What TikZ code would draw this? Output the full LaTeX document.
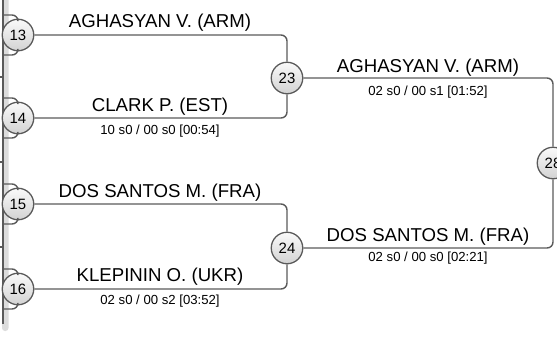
\documentclass[tikz,border=0pt]{standalone}
\usepackage{fontspec}
\setmainfont{Liberation Sans}
\definecolor{linec}{HTML}{5A5A5A}
\definecolor{stripc}{HTML}{DCDCDC}
\begin{document}
\begin{tikzpicture}[x=1bp,y=-1bp,
  conn/.style={draw=linec, line width=1.4bp, rounded corners=6bp},
  rnd/.style={circle, draw=linec, line width=1.3bp, minimum size=31.5bp, inner sep=0pt,
    top color=white!96!gray, bottom color=gray!35, font=\fontsize{15}{15}\selectfont},
  pname/.style={anchor=base, inner sep=0pt, font=\fontsize{18.7}{18.7}\selectfont},
  score/.style={anchor=base, inner sep=0pt, font=\fontsize{13.2}{13.2}\selectfont}]
\useasboundingbox (0,0) rectangle (557,345);
% left strip
\fill[stripc, rounded corners=3bp] (2,-10) rectangle (8.5,331);
\draw[linec, line width=1.4bp] (3,-5) -- (3,324);
% ticks
\coordinate (t1a) at (0,77);  \coordinate (t1b) at (3,77);
\coordinate (t2a) at (0,162); \coordinate (t2b) at (3,162);
\coordinate (t3a) at (0,247); \coordinate (t3b) at (3,247);
\draw[linec, line width=1.4bp] (t1a) -- (t1b) (t2a) -- (t2b) (t3a) -- (t3b);
% nodes
\node[rnd] (n13) at (18,35) {13};
\node[rnd] (n14) at (18,118) {14};
\node[rnd] (n15) at (18,204) {15};
\node[rnd] (n16) at (18,289) {16};
\node[rnd] (n23) at (287,78) {23};
\node[rnd] (n24) at (287,248) {24};
\node[rnd] (n28) at (553,163) {28};
% stubs from previous round
\foreach \n/\y in {13/35,14/118,15/204,16/289}{
  \coordinate (u\n) at (3,\y-20);
  \coordinate (d\n) at (3,\y+20);
  \draw[conn] (u\n) -| (n\n);
  \draw[conn] (d\n) -| (n\n);
}
% connectors
\draw[conn] (n13) -| (n23);
\draw[conn] (n14) -| (n23);
\draw[conn] (n15) -| (n24);
\draw[conn] (n16) -| (n24);
\draw[conn] (n23) -| (n28);
\draw[conn] (n24) -| (n28);
% labels
\node[pname] (l13) at (160,27) {AGHASYAN V. (ARM)};
\node[pname] (l14) at (160,111) {CLARK P. (EST)};
\node[score] (s14) at (160,134) {10 s0 / 00 s0 [00:54]};
\node[pname] (l15) at (160,197) {DOS SANTOS M. (FRA)};
\node[pname] (l16) at (160,281) {KLEPININ O. (UKR)};
\node[score] (s16) at (160,304) {02 s0 / 00 s2 [03:52]};
\node[pname] (l23) at (428,72) {AGHASYAN V. (ARM)};
\node[score] (s23) at (428,95) {02 s0 / 00 s1 [01:52]};
\node[pname] (l24) at (428,241) {DOS SANTOS M. (FRA)};
\node[score] (s24) at (428,261) {02 s0 / 00 s0 [02:21]};
\end{tikzpicture}
\end{document}
